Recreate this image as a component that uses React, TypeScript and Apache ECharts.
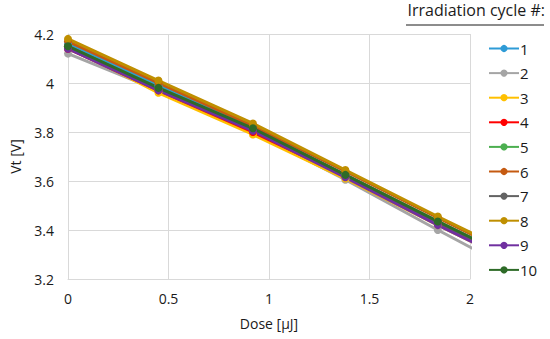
import React, { useEffect, useRef } from "react";
import * as echarts from "echarts";

const doses = [0, 0.45, 0.92, 1.38, 1.84, 2.3];
const cycleNames = ["1", "2", "3", "4", "5", "6", "7", "8", "9", "10"];
const cycleColors = ["#2E9BD6", "#A5A5A5", "#FFC000", "#FF0000", "#4CAF50", "#C55A11", "#636363", "#BF8F00", "#7030A0", "#2E6B28"];
const cycle1 = [4.16, 3.99, 3.815, 3.625, 3.43, 3.245];
const cycle2 = [4.12, 3.97, 3.8, 3.605, 3.4, 3.2];
const cycle3 = [4.15, 3.96, 3.79, 3.61, 3.42, 3.235];
const cycle4 = [4.14, 3.97, 3.8, 3.62, 3.43, 3.245];
const cycle5 = [4.15, 3.98, 3.81, 3.625, 3.435, 3.25];
const cycle6 = [4.17, 4.0, 3.825, 3.64, 3.45, 3.265];
const cycle7 = [4.15, 3.975, 3.81, 3.62, 3.43, 3.245];
const cycle8 = [4.18, 4.01, 3.835, 3.645, 3.455, 3.27];
const cycle9 = [4.14, 3.97, 3.805, 3.615, 3.42, 3.235];
const cycle10 = [4.15, 3.98, 3.815, 3.625, 3.435, 3.25];
const cycleValues = [cycle1, cycle2, cycle3, cycle4, cycle5, cycle6, cycle7, cycle8, cycle9, cycle10];

const FONT = "'Open Sans', 'Liberation Sans', sans-serif";
const TXT = "#1a1a1a";

export default function App() {
  const ref = useRef<HTMLDivElement>(null);
  useEffect(() => {
    if (!ref.current) return;
    const chart = echarts.init(ref.current, undefined, { renderer: "svg" });
    chart.setOption({
      animation: false,
      textStyle: { fontFamily: FONT },
      grid: { left: 68, right: 80, top: 34, bottom: 60 },
      title: {
        text: "Irradiation cycle #:",
        right: 5,
        top: 2,
        padding: 0,
        textStyle: { fontFamily: FONT, fontSize: 16, fontWeight: "normal", color: TXT },
      },
      graphic: [
        { type: "line", shape: { x1: 406, y1: 25, x2: 544, y2: 25 }, style: { stroke: TXT, lineWidth: 1 } },
      ],
      legend: {
        orient: "vertical",
        left: 483,
        top: 36,
        itemWidth: 30,
        itemHeight: 9,
        itemGap: 9.6,
        textStyle: { fontFamily: FONT, fontSize: 15, color: TXT, padding: [0, 0, 0, -4] },
        data: cycleNames,
      },
      xAxis: {
        type: "value",
        min: 0,
        max: 2,
        interval: 0.5,
        name: "Dose [μJ]",
        nameLocation: "middle",
        nameGap: 37,
        nameTextStyle: { fontFamily: FONT, fontSize: 14, color: TXT },
        axisLine: { show: true, lineStyle: { color: "#d9d9d9" } },
        axisTick: { show: false },
        axisLabel: { fontFamily: FONT, fontSize: 14, color: TXT, margin: 12 },
        splitLine: { show: true, lineStyle: { color: "#d9d9d9" } },
      },
      yAxis: {
        type: "value",
        min: 3.2,
        max: 4.2,
        interval: 0.2,
        name: "Vt [V]",
        nameLocation: "middle",
        nameGap: 46,
        nameRotate: 90,
        nameTextStyle: { fontFamily: FONT, fontSize: 14, color: TXT },
        axisLine: { show: true, lineStyle: { color: "#d9d9d9" } },
        axisTick: { show: false },
        axisLabel: { fontFamily: FONT, fontSize: 14, color: TXT, margin: 14 },
        splitLine: { show: true, lineStyle: { color: "#d9d9d9" } },
      },
      series: cycleNames.map((name, i) => ({
        name,
        type: "line",
        data: doses.map((d, j) => [d, cycleValues[i][j]]),
        color: cycleColors[i],
        symbol: "circle",
        symbolSize: 8,
        lineStyle: { width: 3 },
        clip: true,
      })),
    });
    return () => chart.dispose();
  }, []);
  return <div ref={ref} style={{ width: 550, height: 339, position: "absolute", left: 0, top: 0, background: "#fff" }} />;
}
